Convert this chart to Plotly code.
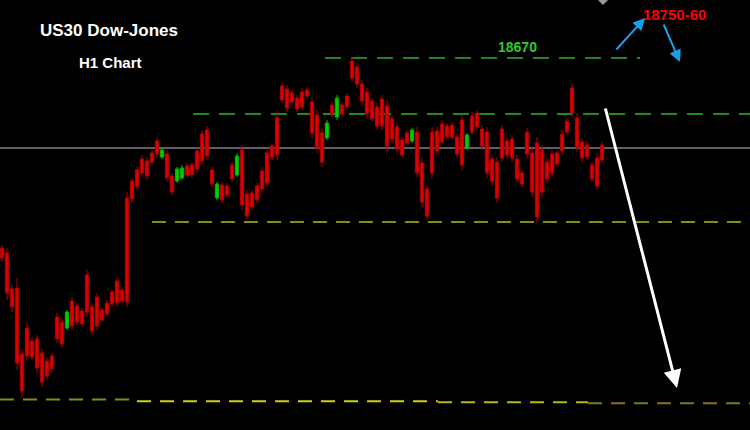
import plotly.graph_objects as go

# ---- data (US30 H1 candles, price levels) ----
highs = [18296,18290,18216,18230,18086,18142,18112,18116,18090,18072,
         18080,18160,18150,18166,18192,18180,18170,18246,18180,18200,
         18170,18186,18208,18232,18212,18402,18430,18452,18476,18472,
         18486,18512,18490,18486,18440,18452,18456,18460,18462,18492,
         18526,18534,18452,18422,18422,18420,18462,18480,18496,18406,
         18406,18420,18452,18490,18500,18562,18622,18616,18606,18596,
         18610,18610,18592,18566,18530,18546,18582,18596,18582,18600,
         18672,18660,18626,18610,18590,18580,18596,18586,18556,18540,
         18512,18526,18530,18532,18470,18416,18532,18532,18546,18540,
         18542,18520,18556,18520,18562,18566,18536,18532,18476,18472,
         18536,18510,18516,18476,18446,18530,18490,18512,18496,18470,
         18486,18486,18526,18550,18620,18560,18510,18502,18462,18480,
         18502]
lows = [18262,18186,18162,18046,17992,18066,18066,18040,18012,18026,
        18042,18100,18090,18126,18126,18136,18132,18152,18116,18126,
        18142,18152,18172,18172,18180,18172,18380,18406,18432,18426,
        18456,18470,18468,18422,18396,18420,18426,18430,18430,18440,
        18456,18466,18412,18386,18380,18392,18422,18432,18366,18346,
        18366,18380,18400,18412,18466,18466,18580,18562,18576,18562,
        18566,18590,18510,18480,18452,18506,18552,18546,18552,18566,
        18622,18610,18576,18550,18542,18526,18526,18482,18500,18480,
        18470,18496,18500,18432,18372,18346,18430,18476,18496,18506,
        18506,18470,18446,18486,18516,18526,18486,18430,18416,18380,
        18462,18470,18462,18420,18412,18470,18392,18340,18392,18420,
        18432,18452,18476,18516,18552,18482,18462,18466,18422,18406,
        18460]
opens = [18290,18280,18208,18210,18078,18130,18104,18108,18080,18064,
         18074,18152,18142,18130,18184,18174,18164,18236,18172,18192,
         18166,18180,18202,18224,18206,18390,18424,18446,18468,18464,
         18480,18504,18472,18478,18434,18424,18430,18454,18456,18484,
         18518,18526,18446,18390,18416,18414,18456,18436,18486,18398,
         18400,18414,18444,18480,18494,18550,18614,18608,18600,18590,
         18602,18606,18582,18556,18520,18510,18576,18552,18576,18594,
         18664,18652,18618,18602,18584,18572,18588,18574,18548,18532,
         18506,18520,18504,18522,18460,18408,18522,18524,18538,18534,
         18536,18512,18546,18490,18554,18560,18528,18522,18468,18462,
         18528,18504,18508,18468,18440,18522,18480,18500,18486,18462,
         18478,18480,18518,18544,18610,18550,18502,18496,18456,18470,
         18496]
closes = [18270,18200,18172,18060,18004,18074,18072,18050,18022,18034,
          18048,18108,18098,18162,18134,18142,18138,18162,18124,18134,
          18146,18158,18178,18180,18184,18182,18388,18412,18440,18434,
          18462,18478,18486,18430,18402,18448,18450,18436,18436,18448,
          18464,18474,18418,18418,18386,18396,18428,18474,18376,18354,
          18372,18386,18408,18420,18472,18476,18586,18570,18582,18568,
          18572,18594,18520,18490,18462,18540,18558,18590,18558,18572,
          18630,18618,18584,18558,18548,18534,18534,18494,18508,18488,
          18476,18500,18526,18440,18382,18354,18440,18484,18502,18512,
          18512,18478,18456,18516,18522,18532,18494,18440,18424,18390,
          18470,18476,18470,18428,18418,18478,18402,18352,18402,18428,
          18440,18458,18484,18522,18560,18490,18470,18472,18428,18414,
          18466]
bar_index = list(range(len(highs)))

level_top = 18670          # green dashed, labelled
level_resist = 18558       # green dashed
level_mid = 18490          # grey solid
level_support = 18342      # olive dashed
bottom_levels = [17987, 17983.4, 17981.4, 17979.4]

title_lines = ["US30 Dow-Jones", "H1 Chart"]
label_top = "18670"
label_target = "18750-60"

# ---- figure ----
W, H = 750, 430
fig = go.Figure()
fig.add_trace(go.Candlestick(
    x=bar_index, open=opens, high=highs, low=lows, close=closes,
    increasing=dict(line=dict(color="#00b400", width=1), fillcolor="#00d000"),
    decreasing=dict(line=dict(color="#b40000", width=1), fillcolor="#dd0000"),
    whiskerwidth=0, showlegend=False, hoverinfo="skip",
))

def px(xp):
    return xp / W

def dash_line(x0p, x1p, yval, color, width=1.5, dash="dash"):
    fig.add_shape(type="line", xref="paper", yref="y",
                  x0=px(x0p), x1=px(x1p), y0=yval, y1=yval,
                  line=dict(color=color, width=width, dash=dash), layer="below")

dash_line(325, 640, level_top, "#3aa83a", dash="16px,10px")
dash_line(193, 750, level_resist, "#2fb52f", dash="16px,10px")
dash_line(0, 750, level_mid, "#5c6068", width=2, dash="solid")
dash_line(152, 750, level_support, "#8a8a18", width=2, dash="14px,9px")
dash_line(0, 137, bottom_levels[0], "#8a8a18", width=2, dash="14px,9px")
dash_line(137, 438, bottom_levels[1], "#cfcf10", width=2, dash="14px,9px")
dash_line(438, 588, bottom_levels[2], "#b8b810", width=2, dash="14px,9px")
dash_line(588, 750, bottom_levels[3], "#807a10", width=2, dash="14px,9px")

font_fam = "Liberation Sans, Arial, sans-serif"

def label(text, xp, yp, size, color):
    fig.add_annotation(xref="paper", yref="paper", x=px(xp), y=1 - yp / H,
                       xanchor="center", yanchor="middle",
                       text="<b>%s</b>" % text, showarrow=False,
                       font=dict(family=font_fam, size=size, color=color))

label(title_lines[0], 109, 30, 17, "white")
label(title_lines[1], 110, 62, 15, "white")
label(label_top, 517, 47, 14, "#33c833")
label(label_target, 674, 14, 15, "#ff0000")

# arrows
def arrow(head, tail, color, width, head_style=2, size=1.0):
    fig.add_annotation(xref="paper", yref="paper", x=px(head[0]), y=1 - head[1] / H,
                       ax=tail[0] - head[0], ay=tail[1] - head[1],
                       text="", showarrow=True, arrowhead=head_style,
                       arrowsize=size, arrowwidth=width, arrowcolor=color, standoff=0)

arrow((677, 388), (605, 107), "#ffffff", 3, 2, 1.2)
arrow((645, 18), (615, 51), "#1aa0e6", 2, 2, 1.2)
arrow((680, 62), (663, 23), "#1aa0e6", 2, 2, 1.2)

# small grey marker at the top edge
fig.add_shape(type="path", xref="paper", yref="paper",
              path="M %f 1 L %f 1 L %f %f Z" % (px(598), px(608), px(603), 1 - 5 / H),
              fillcolor="#9a9a9a", line=dict(width=0))

fig.update_layout(
    width=W, height=H, margin=dict(l=0, r=0, t=0, b=0),
    paper_bgcolor="#000000", plot_bgcolor="#000000",
    xaxis=dict(range=[-0.4, 149.6], visible=False, rangeslider=dict(visible=False)),
    yaxis=dict(range=[17926, 18786], visible=False),
    boxgap=0.05,
    showlegend=False,
)
fig.write_html("out.html", config={"displayModeBar": False, "staticPlot": True})

# remove the default page margin so the figure fills the window
with open("out.html", "r", encoding="utf-8") as f:
    html = f.read()
html = html.replace("<head>", "<head><style>html,body{margin:0;padding:0;background:#000;overflow:hidden;}</style>", 1)
with open("out.html", "w", encoding="utf-8") as f:
    f.write(html)
